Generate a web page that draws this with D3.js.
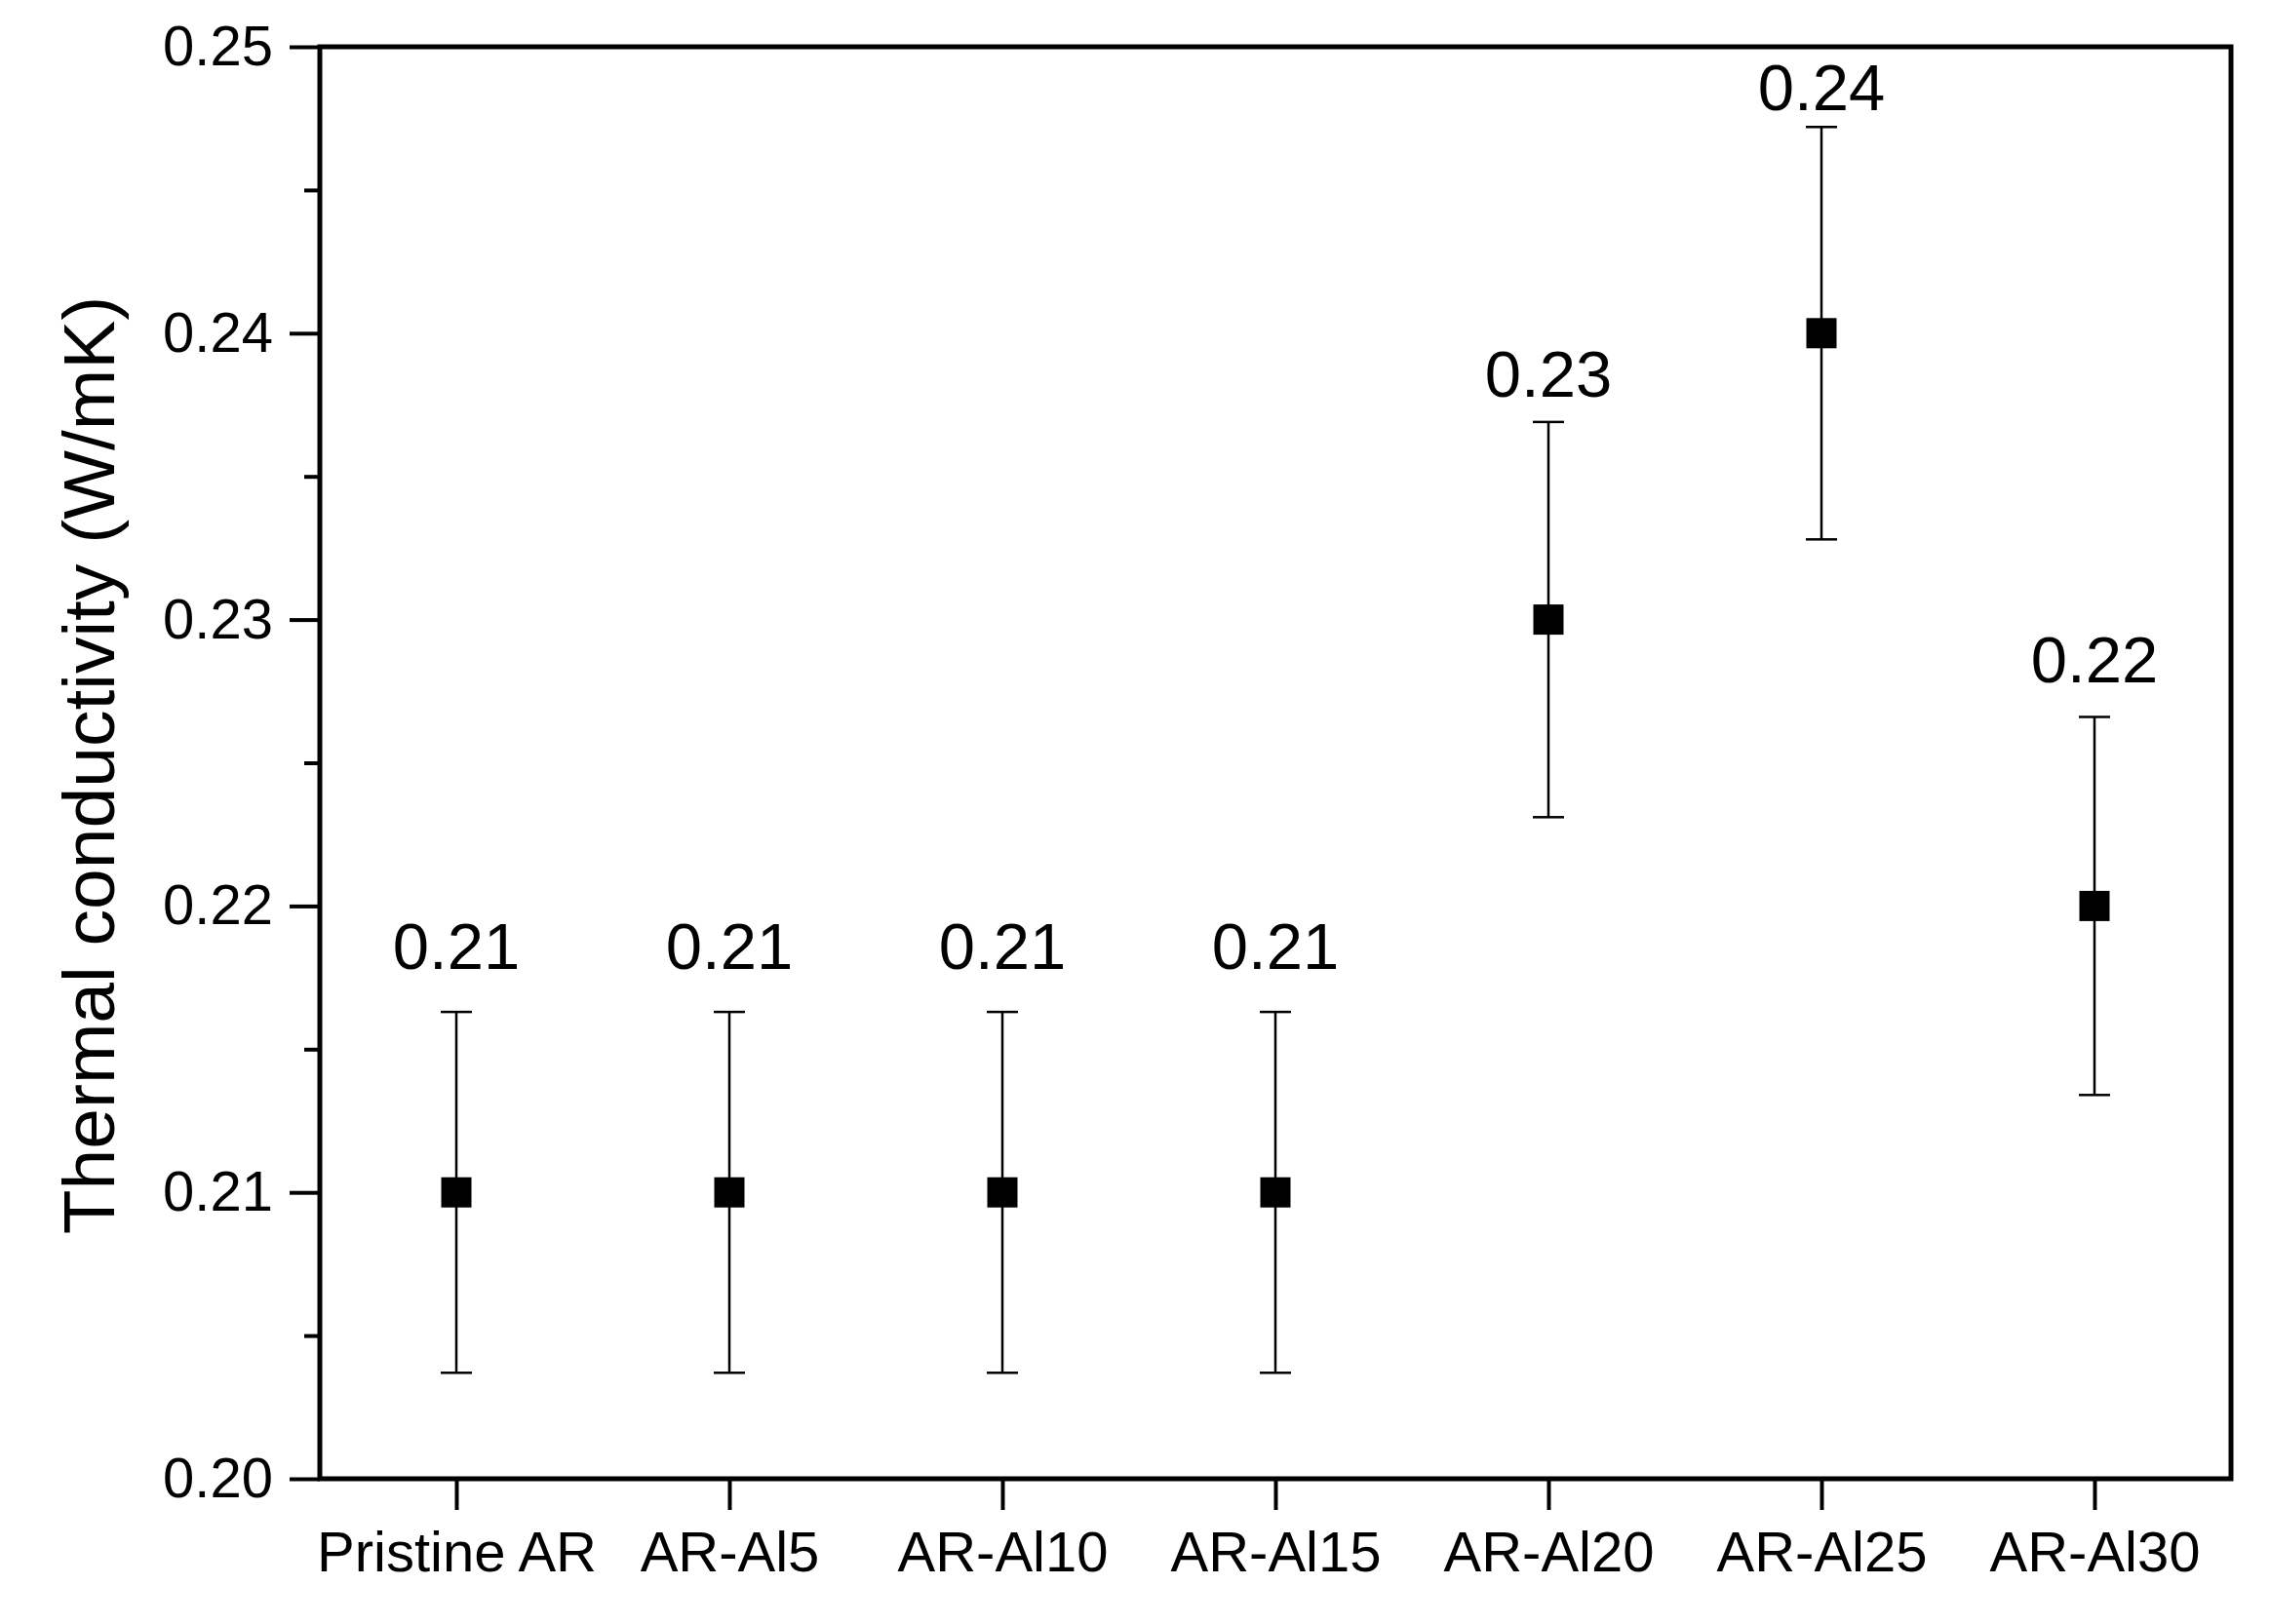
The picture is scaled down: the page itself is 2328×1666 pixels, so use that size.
<!DOCTYPE html>
<html><head><meta charset="utf-8">
<script src="https://cdn.jsdelivr.net/npm/d3@7"></script>
<style>
body{margin:0;background:#fff}
svg{display:block}
text{font-family:"Liberation Sans",Arial,sans-serif;fill:#000}
</style>
</head><body>
<svg id="c" width="2328" height="1666"></svg>
<script>
const categories = ["Pristine AR","AR-Al5","AR-Al10","AR-Al15","AR-Al20","AR-Al25","AR-Al30"];
const values = [0.21,0.21,0.21,0.21,0.23,0.24,0.22];
const errors = [0.0063,0.0063,0.0063,0.0063,0.0069,0.0072,0.0066];
const valueLabels = ["0.21","0.21","0.21","0.21","0.23","0.24","0.22"];
const yTicks = [0.20,0.21,0.22,0.23,0.24,0.25];
const yMinorTicks = [0.205,0.215,0.225,0.235,0.245];
const yDomain = [0.20,0.25];
const yTitle = "Thermal conductivity (W/mK)";

const data = categories.map((c,i)=>({c, v:values[i], e:errors[i], lab:valueLabels[i]}));

const L=328, R=2288, T=48, B=1517;
const svg = d3.select("#c");
const x = d3.scalePoint().domain(categories).range([L,R]).padding(0.5);
const y = d3.scaleLinear().domain(yDomain).range([B,T]);

// minor y ticks
const gMinor = svg.append("g").attr("transform",`translate(${L},0)`)
  .call(d3.axisLeft(y).tickValues(yMinorTicks).tickSize(16).tickFormat(""));
gMinor.select(".domain").remove();
gMinor.selectAll(".tick line").attr("stroke","#000").attr("stroke-width",4);

// major y ticks
const gy = svg.append("g").attr("transform",`translate(${L},0)`)
  .call(d3.axisLeft(y).tickValues(yTicks).tickSize(31).tickPadding(17).tickFormat(d3.format(".2f")));
gy.select(".domain").remove();
gy.selectAll(".tick line").attr("stroke","#000").attr("stroke-width",4);
gy.selectAll(".tick text").attr("font-size",58).attr("font-family","Liberation Sans, Arial, sans-serif").attr("fill","#000");

// x axis
const gx = svg.append("g").attr("transform",`translate(0,${B})`)
  .call(d3.axisBottom(x).tickSize(32).tickPadding(22));
gx.select(".domain").remove();
gx.selectAll(".tick line").attr("stroke","#000").attr("stroke-width",4);
gx.selectAll(".tick text").attr("font-size",58).attr("font-family","Liberation Sans, Arial, sans-serif").attr("fill","#000");

// frame
svg.append("rect").attr("x",L).attr("y",T).attr("width",R-L).attr("height",B-T)
  .attr("fill","none").attr("stroke","#000").attr("stroke-width",5);

// error bars
const eb = svg.append("g").selectAll("g").data(data).join("g");
eb.append("line").attr("x1",d=>x(d.c)).attr("x2",d=>x(d.c))
  .attr("y1",d=>y(d.v+d.e)).attr("y2",d=>y(d.v-d.e))
  .attr("stroke","#000").attr("stroke-width",2.5);
eb.append("line").attr("x1",d=>x(d.c)-16).attr("x2",d=>x(d.c)+16)
  .attr("y1",d=>y(d.v+d.e)).attr("y2",d=>y(d.v+d.e))
  .attr("stroke","#000").attr("stroke-width",2.5);
eb.append("line").attr("x1",d=>x(d.c)-16).attr("x2",d=>x(d.c)+16)
  .attr("y1",d=>y(d.v-d.e)).attr("y2",d=>y(d.v-d.e))
  .attr("stroke","#000").attr("stroke-width",2.5);

// points
svg.append("g").selectAll("rect").data(data).join("rect")
  .attr("x",d=>x(d.c)-15.5).attr("y",d=>y(d.v)-15.5)
  .attr("width",31).attr("height",31).attr("fill","#000");

// value labels
svg.append("g").selectAll("text").data(data).join("text")
  .attr("x",d=>x(d.c)).attr("y",d=>y(d.v)-229)
  .attr("text-anchor","middle").attr("font-size",67)
  .text(d=>d.lab);

// y title
svg.append("text").attr("transform",`translate(117,785) rotate(-90)`)
  .attr("text-anchor","middle").attr("font-size",75)
  .text(yTitle);
</script>
</body></html>
